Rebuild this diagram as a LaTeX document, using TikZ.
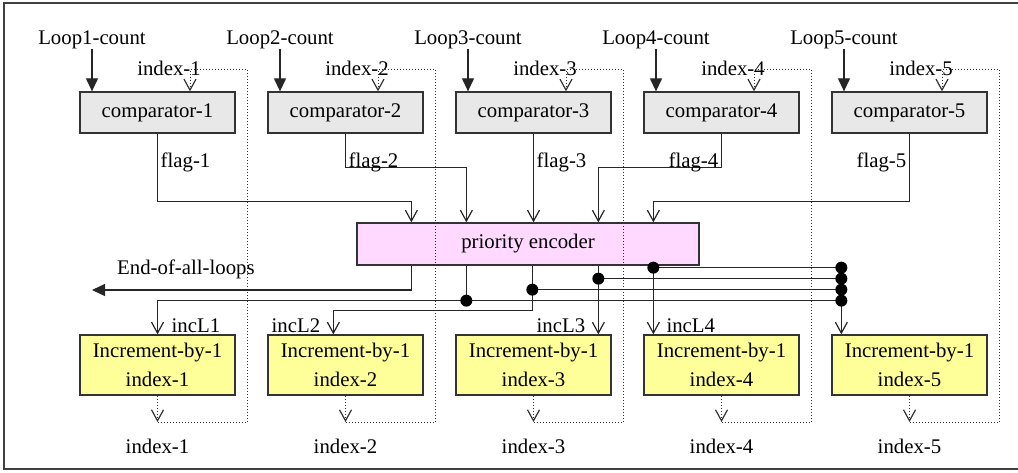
\documentclass[tikz,border=0pt]{standalone}
\usepackage{fontspec}
\setmainfont{Liberation Serif}
\usetikzlibrary{arrows.meta,calc}
\definecolor{cmpfill}{HTML}{E8E8E8}
\definecolor{incfill}{HTML}{FFFF99}
\definecolor{encfill}{HTML}{FFD9FF}
\begin{document}
\begin{tikzpicture}[x=1pt,y=-1pt,
  font=\fontsize{20.8}{29}\selectfont,
  wire/.style={line width=1.2pt, draw=black!85},
  loopwire/.style={line width=1pt, draw=black!80, dotted},
  openarr/.style={-{Straight Barb[length=11pt,width=12pt,line width=1.2pt]}},
  fillarr/.style={-{Triangle[length=13pt,width=12pt]}},
  boxbase/.style={draw=black!80, line width=1.3pt, inner sep=0pt},
  cmp/.style={boxbase, fill=cmpfill, minimum width=155pt, minimum height=41pt},
  inc/.style={boxbase, fill=incfill, minimum width=155pt, minimum height=60pt, align=center},
  enc/.style={boxbase, fill=encfill, minimum width=342pt, minimum height=42pt},
  lbl/.style={inner sep=0pt},
  dot/.style={fill=black}]
\useasboundingbox (0,0) rectangle (1018,472);
\draw[line width=1.5pt, draw=black!75] (4,3) rectangle (1030,469);

\node[enc] (pe) at (528,244) {priority encoder};

\foreach \k in {1,...,5} {
  \pgfmathsetmacro\L{80+188*(\k-1)}
  \node[cmp] (c\k) at (\L+77.5,112.5) {comparator-\k};
  \node[inc] (i\k) at (\L+77.5,365) {Increment-by-1\\index-\k};
  \node[lbl,anchor=base] (lc\k) at (\L+12,44) {Loop\k-count};
  \node[lbl,anchor=base east] (ti\k) at (\L+121,75) {index-\k};
  \node[lbl,anchor=base] (bi\k) at (\L+77.5,453) {index-\k};
  \draw[wire,fillarr] (lc\k.south) -- (lc\k.south |- c\k.north);
  \coordinate (t\k) at (\L+110,69);
  \coordinate (tr\k) at (\L+167,69);
  \coordinate (br\k) at (\L+167,422);
  \coordinate (b\k) at (\L+77.5,422);
  \draw[loopwire,openarr] (i\k.south) -- (b\k);
  \draw[loopwire,openarr] (b\k) -- (br\k) -- (tr\k) -- (t\k) -- (t\k |- c\k.north);
}

% encoder pins
\foreach \k/\dx in {1/55,2/110,3/176,4/242,5/297} {
  \path (pe.north west) ++(\dx,0) coordinate (pin\k);
  \path (pe.south west) ++(\dx,0) coordinate (pout\k);
}

% flags
\draw[wire,openarr] (c1.south) |- ($(pin1)+(0,-21)$) -- (pin1);
\draw[wire,openarr] (c2.south) |- ($(pin2)+(0,-55)$) -- (pin2);
\draw[wire,openarr] (c3.south) -- (c3.south |- pe.north);
\draw[wire,openarr] (c4.south) |- ($(pin4)+(0,-55)$) -- (pin4);
\draw[wire,openarr] (c5.south) |- ($(pin5)+(0,-21)$) -- (pin5);
\node[lbl,anchor=base west] (f1) at ($(c1.south)+(3,34)$) {flag-1};
\node[lbl,anchor=base west] (f2) at ($(c2.south)+(3,34)$) {flag-2};
\node[lbl,anchor=base west] (f3) at ($(c3.south)+(3,34)$) {flag-3};
\node[lbl,anchor=base east] (f4) at ($(c4.south)+(-3,34)$) {flag-4};
\node[lbl,anchor=base east] (f5) at ($(c5.south)+(-3,34)$) {flag-5};

% outputs
\coordinate (eoal) at (92,290);
\draw[wire,fillarr] (pout1) |- (eoal);
\node[lbl,anchor=base west] (eoaltext) at (117,274) {End-of-all-loops};

\path (pout2) ++(0,35) coordinate (d2);
\path (pout3) ++(0,24) coordinate (d3);
\path (pout4) ++(0,13) coordinate (d4);
\path (pout5) ++(0,2) coordinate (d5);
\path (i5.north west) ++(10,0) coordinate (in5);
\path (i2.north west) ++(66,0) coordinate (in2);

\draw[wire] (pout2) -- (d2);
\draw[wire,openarr] (in5 |- d2) -- (d2) -| (i1.north);
\draw[wire,openarr] (pout3) |- ($(in2)+(0,-24)$) -- (in2);
\draw[wire] (d3) -- (in5 |- d3);
\draw[wire,openarr] (pout4) -- (pout4 |- i3.north);
\draw[wire] (d4) -- (in5 |- d4);
\draw[wire,openarr] (pout5) -- (pout5 |- i4.north);
\draw[wire] (d5) -- (in5 |- d5);
\draw[wire,openarr] (in5 |- d5) -- (in5);

\foreach \p in {d2,d3,d4,d5} {
  \fill[dot] (\p) circle (6pt);
  \fill[dot] (in5 |- \p) circle (6pt);
}

\node[lbl,anchor=base west] (l1) at ($(i1.north)+(14,-2)$) {incL1};
\node[lbl,anchor=base east] (l2) at ($(in2)+(-13,-2)$) {incL2};
\node[lbl,anchor=base east] (l3) at ($(pout4 |- i3.north)+(-13,-2)$) {incL3};
\node[lbl,anchor=base west] (l4) at ($(pout5 |- i4.north)+(13,-2)$) {incL4};
\end{tikzpicture}
\end{document}
